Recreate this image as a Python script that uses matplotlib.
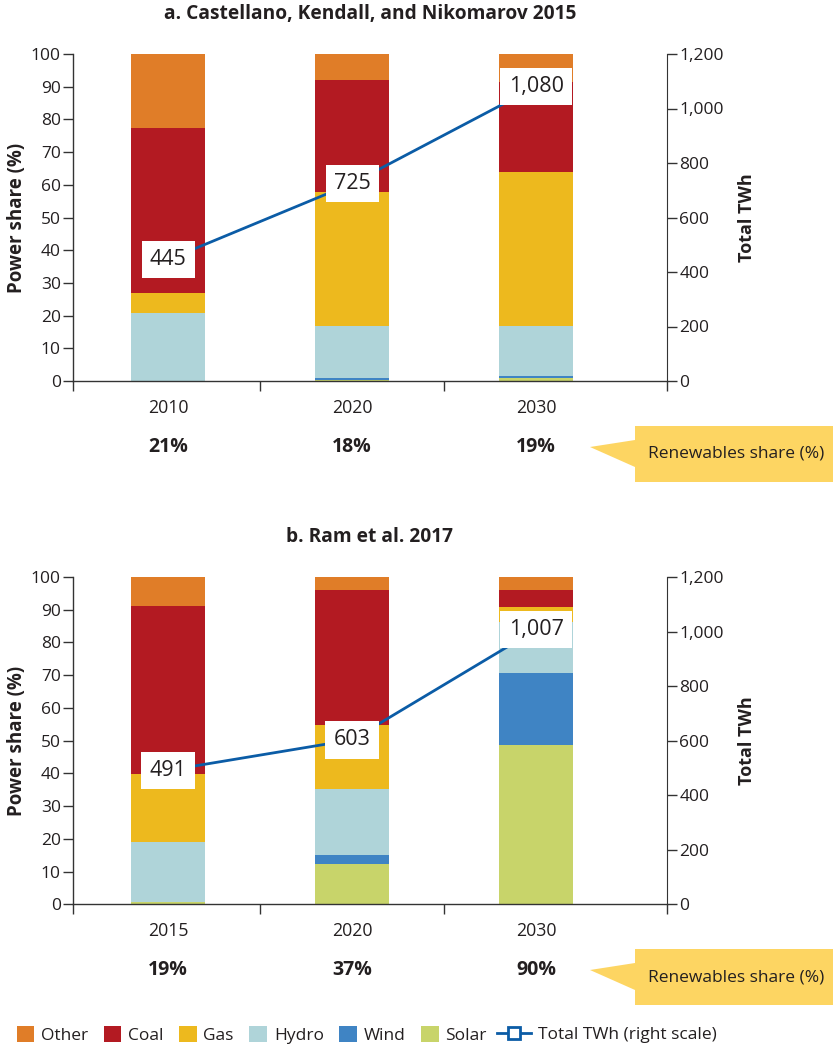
import numpy as np
import matplotlib
matplotlib.use('Agg')
import matplotlib.pyplot as plt
from matplotlib.patches import Polygon, Patch
from matplotlib.lines import Line2D
from matplotlib.ticker import FuncFormatter

plt.rcParams['font.family'] = ['Open Sans', 'DejaVu Sans']

# ---- data ----
SOURCES = ['Solar', 'Wind', 'Hydro', 'Gas', 'Coal', 'Other']
COLORS = {'Other': '#E07D28', 'Coal': '#B31A22', 'Gas': '#EDB91E',
          'Hydro': '#AFD4D9', 'Wind': '#3F84C4', 'Solar': '#C8D46A'}
LINE_COLOR = '#0B5CA6'
TEXT = '#231F20'

title_a = 'a. Castellano, Kendall, and Nikomarov 2015'
years_a = ['2010', '2020', '2030']
solar_a = [0.0, 0.4, 1.0]
wind_a = [0.0, 0.6, 0.6]
hydro_a = [20.7, 15.9, 15.3]
gas_a = [6.3, 40.9, 47.0]
coal_a = [50.5, 34.2, 27.5]
other_a = [22.5, 8.0, 8.6]
twh_a = [445, 725, 1080]
renew_a = [21, 18, 19]

title_b = 'b. Ram et al. 2017'
years_b = ['2015', '2020', '2030']
solar_b = [0.6, 12.3, 48.7]
wind_b = [0.2, 2.8, 22.0]
hydro_b = [18.1, 20.1, 15.6]
gas_b = [20.9, 19.6, 4.5]
coal_b = [51.4, 41.2, 5.2]
other_b = [8.8, 4.0, 4.0]
twh_b = [491, 603, 1007]
renew_b = [19, 37, 90]

W, H = 833, 1049


def fx(px):
    return px / W


def fy(py):
    return 1 - py / H


def draw_panel(rect, title, years, shares, twh, renew, label_y, renew_y):
    ax = fig.add_axes(rect)
    x = np.arange(len(years))
    bottom = np.zeros(len(years))
    for name, vals in zip(SOURCES, shares):
        vals = np.array(vals)
        ax.bar(x, vals, bottom=bottom, width=0.405, color=COLORS[name], linewidth=0)
        bottom += vals
    ax.set_xlim(-0.515, 2.71)
    ax.set_ylim(0, 100)
    ax.set_yticks(range(0, 101, 10))
    ax.set_xticks(x)
    ax.set_xticklabels([])
    ax.tick_params(axis='x', which='major', length=0)
    ax.set_xticks([-0.515, 0.5, 1.5, 2.71], minor=True)
    ax.tick_params(axis='x', which='minor', length=7, width=1, color='#333333')
    ax.tick_params(axis='y', length=7, width=1, color='#333333', labelsize=12.5,
                   labelcolor=TEXT, pad=2)
    for s in ['top', 'right']:
        ax.spines[s].set_visible(False)
    for s in ['left', 'bottom']:
        ax.spines[s].set_color('#333333')
        ax.spines[s].set_linewidth(1)
    ax.set_ylabel('Power share (%)', fontsize=13.5, fontweight='bold', color=TEXT, labelpad=3)

    ax2 = ax.twinx()
    ax2.set_ylim(0, 1200)
    ax2.set_yticks(range(0, 1201, 200))
    ax2.yaxis.set_major_formatter(FuncFormatter(lambda v, p: f'{int(v):,}'))
    ax2.tick_params(axis='y', length=7, width=1, color='#333333', labelsize=12.5,
                    labelcolor=TEXT, pad=2)
    for s in ['top', 'left', 'bottom']:
        ax2.spines[s].set_visible(False)
    ax2.spines['right'].set_color('#333333')
    ax2.set_ylabel('Total TWh', fontsize=13, fontweight='bold', color=TEXT, labelpad=10)
    ax2.plot(x, twh, color=LINE_COLOR, linewidth=2)
    for xi, v in zip(x, twh):
        ax2.text(xi, v, f'{v:,}', ha='center', va='center', fontsize=15.5, color=TEXT,
                 bbox=dict(boxstyle='square,pad=0.38', facecolor='white', edgecolor='none'))

    fig.text(fx(370), fy(label_y[0]), title, ha='center', va='center',
             fontsize=13.8, fontweight='bold', color=TEXT)
    for xi, yr, r in zip(x, years, renew):
        px = ax.transData.transform((xi, 0))[0] / fig.dpi / fig.get_figwidth()
        fig.text(px, fy(label_y[1]), yr, ha='center', va='center', fontsize=12.8, color=TEXT)
        fig.text(px, fy(renew_y), f'{r}%', ha='center', va='center', fontsize=14,
                 fontweight='bold', color=TEXT)

    # callout
    top, bot = renew_y - 21, renew_y + 35
    pts = [(590, renew_y), (635, renew_y - 7), (635, top), (W, top), (W, bot),
           (635, bot), (635, renew_y + 20)]
    fig.patches.append(Polygon([(fx(a), fy(b)) for a, b in pts], closed=True,
                               transform=fig.transFigure, facecolor='#FDD562',
                               edgecolor='none'))
    fig.text(fx(736), fy(renew_y + 7), 'Renewables share (%)', ha='center', va='center',
             fontsize=12.5, color=TEXT)
    return ax


fig = plt.figure(figsize=(W / 100, H / 100), dpi=100)

shares_a = [solar_a, wind_a, hydro_a, gas_a, coal_a, other_a]
shares_b = [solar_b, wind_b, hydro_b, gas_b, coal_b, other_b]

draw_panel([fx(73.3), fy(381), fx(666.7) - fx(73.3), fy(54) - fy(381)],
           title_a, years_a, shares_a, twh_a, renew_a, (14, 408), 447)
draw_panel([fx(73.3), fy(904.3), fx(666.7) - fx(73.3), fy(577) - fy(904.3)],
           title_b, years_b, shares_b, twh_b, renew_b, (537, 931), 970)

names = ['Other', 'Coal', 'Gas', 'Hydro', 'Wind', 'Solar']
handles = [Patch(facecolor=COLORS[n], edgecolor='none') for n in names]
fig.legend(handles, names, loc='center left', bbox_to_anchor=(fx(8), fy(1035)), ncol=6,
           frameon=False, fontsize=12.5, handlelength=1.0, handleheight=1.0,
           handletextpad=0.4, columnspacing=0.9, borderpad=0, labelcolor=TEXT)
line_h = Line2D([0], [0], color=LINE_COLOR, linewidth=2, marker='s', markersize=9,
                markerfacecolor='white', markeredgecolor=LINE_COLOR, markeredgewidth=2)
fig.legend([line_h], ['Total TWh (right scale)'], loc='center left',
           bbox_to_anchor=(fx(488), fy(1035)), frameon=False, fontsize=12.5,
           handlelength=2.0, handletextpad=0.4, borderpad=0, labelcolor=TEXT)

fig.savefig('out.png', dpi=100)
